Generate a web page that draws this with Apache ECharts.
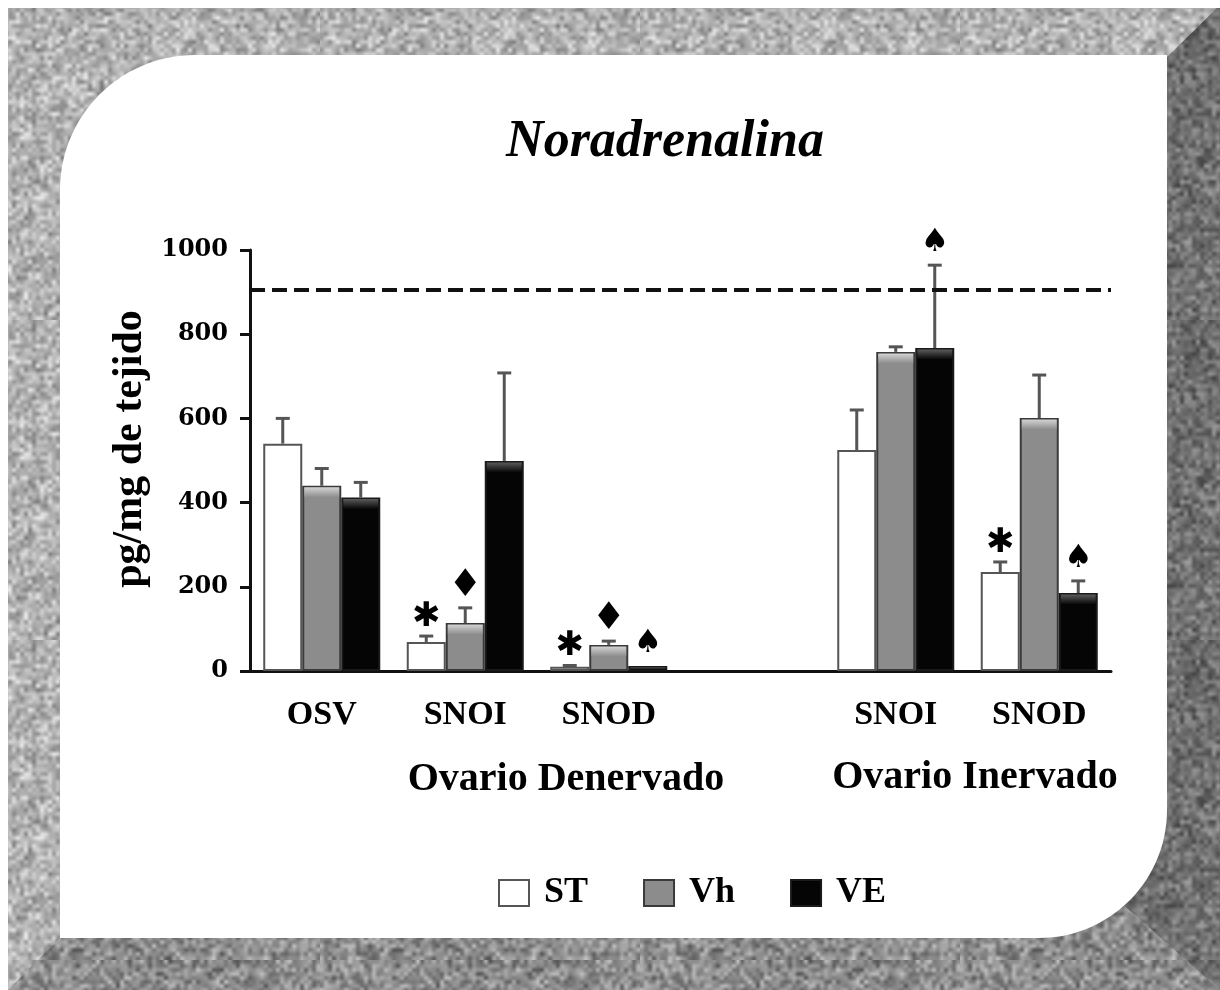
<!DOCTYPE html>
<html><head><meta charset="utf-8">
<script src="https://cdn.jsdelivr.net/npm/echarts@6/dist/echarts.min.js"></script>
<style>html,body{margin:0;padding:0;background:#fff;} #c{width:1220px;height:990px;}</style>
</head><body><div id="c"></div>
<script>
// ---------- data ----------
const categories = ['OSV', 'SNOI', 'SNOD', '', 'SNOI', 'SNOD'];
const seriesNames = ['ST', 'Vh', 'VE'];
const stValues = [540, 69, 10, null, 525, 235];
const stErrors = [60, 14, 3, null, 95, 24];
const vhValues = [440, 114, 62, null, 758, 601];
const vhErrors = [41, 36, 9, null, 12, 102];
const veValues = [412, 499, 12, null, 767, 185];
const veErrors = [36, 209, 0, null, 197, 29];
const stMarks = ['', '*', '*', '', '', '*'];
const vhMarks = ['', '♦', '♦', '', '', ''];
const veMarks = ['', '', '♠', '', '♠', '♠'];
const yTicks = [0, 200, 400, 600, 800, 1000];
const referenceLine = 905;
const groupLabels = ['Ovario Denervado', 'Ovario Inervado'];
const titleText = 'Noradrenalina';
const yAxisTitle = 'pg/mg de tejido';

// ---------- styling ----------
const SERIF = '"Liberation Serif", "Times New Roman", serif';
const BAR_W = 39;
const fills = ['#ffffff', '#8c8c8c', '#050505'];
const borders = ['#555555', '#3a3a3a', '#1a1a1a'];
const highlights = [null, ['#d4d4d4', '#8c8c8c'], ['#5a5a5a', '#050505']];

// deterministic texture for the frame (decoration only)
function prng(seed) {
  return function () {
    seed |= 0; seed = seed + 0x6D2B79F5 | 0;
    let t = Math.imul(seed ^ seed >>> 15, 1 | seed);
    t = t + Math.imul(t ^ t >>> 7, 61 | t) ^ t;
    return ((t ^ t >>> 14) >>> 0) / 4294967296;
  };
}
function texture(base, amp, seed) {
  const n = 80, s = 4;
  const small = document.createElement('canvas');
  small.width = n; small.height = n;
  const sc = small.getContext('2d');
  const img = sc.createImageData(n, n);
  const r = prng(seed);
  for (let i = 0; i < n * n; i++) {
    const g = Math.max(0, Math.min(255, base + amp * ((r() + r()) - 1)));
    img.data[i * 4] = img.data[i * 4 + 1] = img.data[i * 4 + 2] = g;
    img.data[i * 4 + 3] = 255;
  }
  sc.putImageData(img, 0, 0);
  const big = document.createElement('canvas');
  big.width = n * s; big.height = n * s;
  const bc = big.getContext('2d');
  bc.imageSmoothingEnabled = true;
  bc.drawImage(small, 0, 0, n * s, n * s);
  return big;
}
const texLight = texture(178, 65, 11);
const texDark = texture(112, 55, 23);
const texMid = texture(140, 65, 37);

// rounded panel outline (decoration)
function arcPts(cx, cy, r, a0, a1, steps) {
  const p = [];
  for (let j = 0; j <= steps; j++) {
    const a = a0 + (a1 - a0) * j / steps;
    p.push([cx + r * Math.cos(a), cy + r * Math.sin(a)]);
  }
  return p;
}
const panelPts = [].concat(
  arcPts(195, 190, 135, Math.PI, 1.5 * Math.PI, 30),
  [[1167, 55]],
  arcPts(1039, 810, 128, 0, 0.5 * Math.PI, 30),
  [[60, 938]]
);

const chart = echarts.init(document.getElementById('c'), null, { renderer: 'canvas' });

function barSeries(i, vals) {
  return {
    name: seriesNames[i], type: 'bar', barWidth: BAR_W, barGap: '0%', z: 2,
    itemStyle: { color: fills[i], borderColor: borders[i], borderWidth: 2 },
    data: vals
  };
}

function errSeries(i, vals, errs, marks) {
  return {
    name: seriesNames[i] + '-err', type: 'custom', z: 4,
    data: vals.map((v, k) => [k, v == null ? NaN : v, errs[k] == null ? 0 : errs[k], k]),
    encode: { x: 0, y: 1 },
    renderItem: function (params, api) {
      const v = api.value(1);
      if (isNaN(v)) return;
      const k = api.value(3);
      const e = api.value(2);
      const top = api.coord([api.value(0), v]);
      const errTop = api.coord([api.value(0), v + e]);
      const base = api.coord([api.value(0), 0]);
      const x = top[0] + (i - 1) * BAR_W;
      const children = [];
      const h = base[1] - top[1];
      if (highlights[i] && h > 4) {
        const hh = Math.min(10, h - 3);
        children.push({
          type: 'rect',
          shape: { x: x - BAR_W / 2 + 2, y: top[1] + 1.5, width: BAR_W - 4, height: hh },
          style: { fill: { type: 'linear', x: 0, y: 0, x2: 0, y2: 1, colorStops: [
            { offset: 0, color: highlights[i][0] }, { offset: 1, color: highlights[i][1] }] } }
        });
      }
      if (e > 0) {
        children.push({ type: 'line', shape: { x1: x, y1: top[1], x2: x, y2: errTop[1] },
          style: { stroke: '#555', lineWidth: 3 } });
        children.push({ type: 'line', shape: { x1: x - 7, y1: errTop[1], x2: x + 7, y2: errTop[1] },
          style: { stroke: '#555', lineWidth: 3 } });
      }
      const m = marks[k];
      if (m) {
        let font, dy, txt = m;
        if (m === '*') { txt = '✱'; font = 'bold 34px "DejaVu Sans"'; dy = -19; }
        else if (m === '♦') { font = '38px "DejaVu Sans"'; dy = -22; }
        else { font = '32px "DejaVu Sans"'; dy = -22; }
        children.push({ type: 'text', x: x, y: errTop[1] + dy,
          style: { text: txt, font: font, fill: '#000', align: 'center', verticalAlign: 'middle' } });
      }
      return { type: 'group', children: children };
    }
  };
}

const option = {
  backgroundColor: '#ffffff',
  animation: false,
  grid: { left: 250, right: 109, top: 250, bottom: 319 },
  legend: {
    data: seriesNames, left: 493, top: 870, itemWidth: 30, itemHeight: 26, itemGap: 55,
    icon: 'rect',
    textStyle: { fontFamily: SERIF, fontWeight: 'bold', fontSize: 36, color: '#000', padding: [0, 0, 0, 10] }
  },
  xAxis: {
    type: 'category', data: categories,
    axisLine: { lineStyle: { color: '#111', width: 3 } },
    axisTick: { show: false },
    axisLabel: { margin: 27, fontFamily: SERIF, fontWeight: 'bold', fontSize: 34, color: '#000', interval: 0 }
  },
  yAxis: {
    type: 'value', min: yTicks[0], max: yTicks[yTicks.length - 1], interval: yTicks[1] - yTicks[0],
    splitLine: { show: false },
    axisLine: { show: true, lineStyle: { color: '#111', width: 3 } },
    axisTick: { show: true, length: 10, lineStyle: { color: '#111', width: 3 } },
    axisLabel: { margin: 22, fontFamily: '"DejaVu Serif"', fontWeight: 'bold', fontSize: 24, color: '#000',
      formatter: function (v) { return String(v); } }
  },
  graphic: [
    { type: 'rect', z: -10, silent: true, shape: { x: 8, y: 8, width: 1212, height: 982 },
      style: { fill: { image: texLight, repeat: 'repeat' } } },
    { type: 'polygon', z: -9, silent: true,
      shape: { points: [[8, 990], [60, 938], [1030, 938], [1030, 823], [1220, 990]] },
      style: { fill: { image: texMid, repeat: 'repeat' } } },
    { type: 'polygon', z: -9, silent: true,
      shape: { points: [[1167, 57], [1217, 8], [1220, 8], [1220, 990], [1030, 823], [1030, 57]] },
      style: { fill: { image: texDark, repeat: 'repeat' } } },
    { type: 'polygon', z: -8, silent: true, shape: { points: panelPts }, style: { fill: '#ffffff' } },
    { type: 'text', z: 10, x: 665, y: 143, style: { text: titleText, font: 'italic bold 52px ' + SERIF,
      fill: '#000', align: 'center', verticalAlign: 'middle' } },
    { type: 'text', z: 10, x: 130, y: 449, rotation: Math.PI / 2,
      style: { text: yAxisTitle, font: 'bold 42px ' + SERIF, fill: '#000', align: 'center', verticalAlign: 'middle' } },
    { type: 'text', z: 10, x: 566, y: 780, style: { text: groupLabels[0], font: 'bold 40px ' + SERIF,
      fill: '#000', align: 'center', verticalAlign: 'middle' } },
    { type: 'text', z: 10, x: 975, y: 778, style: { text: groupLabels[1], font: 'bold 40px ' + SERIF,
      fill: '#000', align: 'center', verticalAlign: 'middle' } }
  ],
  series: [
    Object.assign(barSeries(0, stValues), {
      markLine: { silent: true, symbol: 'none', label: { show: false },
        lineStyle: { color: '#111', width: 4, type: [15, 7] }, data: [{ yAxis: referenceLine }] }
    }),
    barSeries(1, vhValues),
    barSeries(2, veValues),
    errSeries(0, stValues, stErrors, stMarks),
    errSeries(1, vhValues, vhErrors, vhMarks),
    errSeries(2, veValues, veErrors, veMarks)
  ]
};
chart.setOption(option);
</script></body></html>
